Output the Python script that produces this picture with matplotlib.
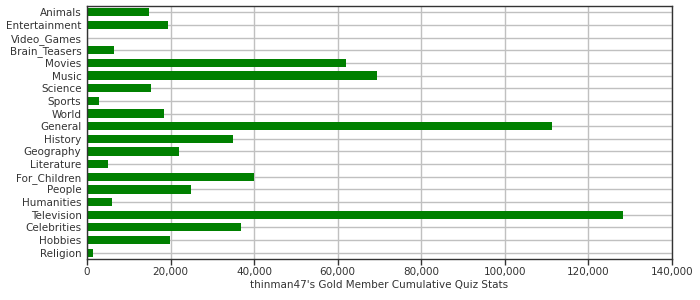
import numpy as np
import matplotlib
matplotlib.use('Agg')
import matplotlib.pyplot as plt
from matplotlib.ticker import FuncFormatter

categories = ['Animals', 'Entertainment', 'Video_Games', 'Brain_Teasers', 'Movies',
              'Music', 'Science', 'Sports', 'World', 'General', 'History',
              'Geography', 'Literature', 'For_Children', 'People', 'Humanities',
              'Television', 'Celebrities', 'Hobbies', 'Religion']
values = [14800, 19300, 0, 6500, 62000, 69400, 15300, 2900, 18400, 111200,
          34900, 22000, 5000, 40000, 24900, 6000, 128200, 36800, 19900, 1400]
xticks = [0, 20000, 40000, 60000, 80000, 100000, 120000, 140000]
xlabel = "thinman47's Gold Member Cumulative Quiz Stats"

plt.rcParams['font.family'] = 'DejaVu Sans'

fig = plt.figure(figsize=(7, 3), dpi=100)
ax = fig.add_axes([87/700, 41/300, 585/700, 253/300])

y = np.arange(len(categories))
ax.barh(y, values, height=0.65, color='#008000', zorder=2)

ax.set_ylim(len(categories) - 0.5, -0.5)
ax.set_xlim(0, 140000)
ax.set_yticks(y)
ax.set_yticklabels(categories)
ax.set_xticks(xticks)
ax.xaxis.set_major_formatter(FuncFormatter(lambda v, p: '{:,.0f}'.format(v)))

ax.grid(True, color='#c0c0c0', linewidth=1, zorder=0)
ax.set_axisbelow(True)

for s in ax.spines.values():
    s.set_color('#333333')
    s.set_linewidth(1)

ax.tick_params(axis='x', length=4, width=1, color='#333333', labelsize=7.5,
               labelcolor='#333333', pad=2)
ax.tick_params(axis='y', length=0, labelsize=7.5, labelcolor='#333333', pad=4)
ax.set_xlabel(xlabel, fontsize=7.5, color='#333333', labelpad=2)

fig.savefig('out.png', dpi=100)
